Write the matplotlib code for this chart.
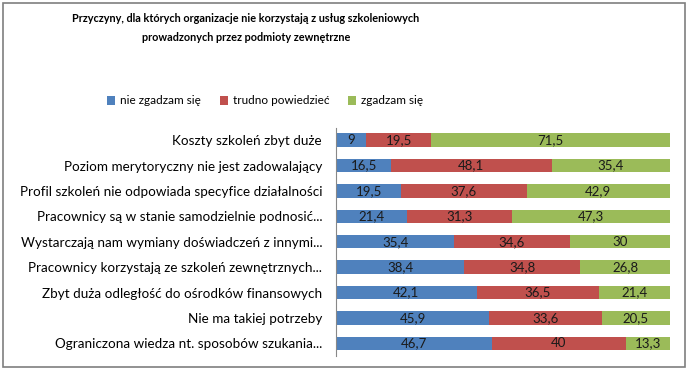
import matplotlib
matplotlib.use("Agg")
import matplotlib.pyplot as plt
from matplotlib.patches import Rectangle
import numpy as np

plt.rcParams['font.family'] = ['Lato', 'DejaVu Sans']

# data
categories = [
    "Koszty szkoleń zbyt duże",
    "Poziom merytoryczny nie jest zadowalający",
    "Profil szkoleń nie odpowiada specyfice działalności",
    "Pracownicy są w stanie samodzielnie podnosić...",
    "Wystarczają nam wymiany doświadczeń z innymi...",
    "Pracownicy korzystają ze szkoleń zewnętrznych...",
    "Zbyt duża odległość do ośrodków finansowych",
    "Nie ma takiej potrzeby",
    "Ograniczona wiedza nt. sposobów szukania...",
]
nie_zgadzam = [9, 16.5, 19.5, 21.4, 35.4, 38.4, 42.1, 45.9, 46.7]
trudno = [19.5, 48.1, 37.6, 31.3, 34.6, 34.8, 36.5, 33.6, 40]
zgadzam = [71.5, 35.4, 42.9, 47.3, 30, 26.8, 21.4, 20.5, 13.3]
series_names = ["nie zgadzam się", "trudno powiedzieć", "zgadzam się"]
colors = ["#4F81BD", "#C0504D", "#9BBB59"]

fig = plt.figure(figsize=(6.88, 3.70), dpi=100)
ax = fig.add_axes([336/688, 1-356/370, 334/688, 228.5/370])

y = np.arange(len(categories))
left = np.zeros(len(categories))
for vals, name, col in zip([nie_zgadzam, trudno, zgadzam], series_names, colors):
    vals = np.array(vals, dtype=float)
    bars = ax.barh(y, vals, left=left, height=0.53, color=col, label=name)
    for b, v in zip(bars, vals):
        txt = ("%g" % v).replace(".", ",")
        ax.text(b.get_x() + b.get_width()/2, b.get_y() + b.get_height()/2, txt,
                ha="center", va="center", fontsize=9.5, color="#1a1a1a")
    left += vals

ax.set_xlim(0, 100)
ax.set_ylim(len(categories)-0.5, -0.5)
ax.set_yticks(y)
ax.set_yticklabels(categories, fontsize=9.7)
ax.tick_params(axis="y", length=0, pad=10)
ax.set_xticks([])
for s in ["top", "right", "bottom"]:
    ax.spines[s].set_visible(False)
ax.spines["left"].set_color("#888888")

fig.text(246/688, 1-28/370, "Przyczyny, dla których organizacje nie korzystają z usług szkoleniowych\nprowadzonych przez podmioty zewnętrzne",
         ha="center", va="center", fontsize=7.8, fontweight="bold", linespacing=1.9)

fig.legend(loc="center", bbox_to_anchor=(265/688, 1-101/370), ncol=3, frameon=False,
           fontsize=8.5, handlelength=0.7, handleheight=0.7, columnspacing=1.6, handletextpad=0.4)

fig.patches.append(Rectangle((3/688, 3/370), 682/688, 364/370, transform=fig.transFigure,
                             fill=False, edgecolor="#7f7f7f", linewidth=1.2))

fig.savefig("out.png", dpi=100)
